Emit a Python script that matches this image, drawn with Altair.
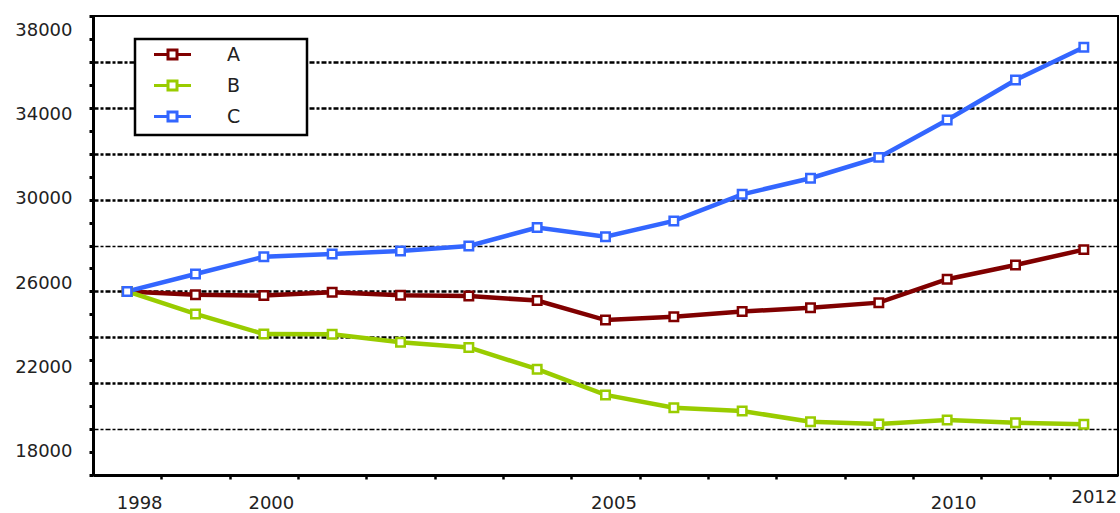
import altair as alt
import pandas as pd

# ---- data ----
years = list(range(1998, 2013))
series_a = [26000, 25850, 25820, 25960, 25830, 25800, 25600, 24750, 24900, 25120, 25290, 25510, 26530, 27150, 27820]
series_b = [26000, 25020, 24140, 24130, 23780, 23560, 22610, 21490, 20930, 20790, 20320, 20220, 20400, 20280, 20210]
series_c = [26000, 26760, 27510, 27630, 27760, 27980, 28780, 28380, 29070, 30230, 30930, 31840, 33470, 35210, 36640]
names = ["A", "B", "C"]
colors = ["#800000", "#99cc00", "#3366ff"]

x_label_years = [1998, 2000, 2005, 2010, 2012]
x_tick_years = [y + 0.5 for y in range(1998, 2012)]
y_label_values = [18000, 22000, 26000, 30000, 34000, 38000]
y_tick_values = list(range(18000, 38001, 1000))
y_grid_values = list(range(20000, 36001, 2000))

rows = []
for name, vals in zip(names, [series_a, series_b, series_c]):
    for yr, v in zip(years, vals):
        rows.append({"year": yr, "value": v, "series": name})
df = pd.DataFrame(rows)

font = "DejaVu Sans"
xl = ",".join(str(v) for v in x_label_years)
yl = ",".join(str(v) for v in y_label_values)
yg = ",".join(str(v) for v in y_grid_values)

x_enc = alt.X(
    "year:Q",
    title=None,
    scale=alt.Scale(domain=[1997.5, 2012.5], nice=False, zero=False),
    axis=alt.Axis(
        values=sorted(x_tick_years + x_label_years),
        labelExpr=f"indexof([{xl}], datum.value) >= 0 ? format(datum.value, 'd') : ''",
        tickOpacity={"condition": {"test": "datum.value % 1 == 0.5", "value": 1}, "value": 0},
        labelOffset=alt.expr("datum.value == 1998 ? 12 : datum.value == 2000 ? 7 : datum.value == 2010 ? 6 : datum.value == 2012 ? 10 : 8"),
        labelPadding=alt.expr("datum.value == 2012 ? 9 : 15"),
        tickSize=4, tickWidth=2.5, tickColor="black",
        domainColor="black", domainWidth=3,
        labelFont=font, labelFontSize=18, labelColor="#222",
        labelBaseline="top", labelFlush=False, labelOverlap=False,
        grid=False,
    ),
)

y_enc = alt.Y(
    "value:Q",
    title=None,
    scale=alt.Scale(domain=[18000, 38000], nice=False, zero=False),
    axis=alt.Axis(
        values=y_tick_values,
        labelExpr=f"indexof([{yl}], datum.value) >= 0 ? format(datum.value, 'd') : ''",
        labelOffset=alt.expr("-4.5 + (datum.value - 28000) * 0.0019"),
        labelPadding=17,
        tickSize=4, tickWidth=3, tickColor="black",
        domainColor="black", domainWidth=3,
        labelFont=font, labelFontSize=18, labelColor="#222",
        labelFlush=False, labelOverlap=False,
        grid=True, gridColor="black", gridDash=[5, 2, 3, 2],
        gridOpacity={"condition": {"test": f"indexof([{yg}], datum.value) >= 0", "value": 1}, "value": 0},
        gridWidth={"condition": {"test": "datum.value == 28000 || datum.value == 20000", "value": 1.5}, "value": 2.5},
    ),
)

legend_symbol = "M-1.85,0H-0.45M0.45,0H1.85M-0.45,-0.45H0.45V0.45H-0.45Z"
color_enc = alt.Color(
    "series:N",
    scale=alt.Scale(domain=names, range=colors),
    legend=alt.Legend(
        title=None, orient="none", legendX=68, legendY=27,
        symbolType=legend_symbol, symbolSize=400, symbolStrokeWidth=3,
        symbolFillColor="white", symbolOpacity=1,
        labelFont=font, labelFontSize=19, labelColor="#222",
        labelOffset=43, rowPadding=9, padding=0,
    ),
)

box = alt.Chart(pd.DataFrame({"k": [0]})).mark_rect(
    fill="white", stroke="black", strokeWidth=2.5
).encode(x=alt.value(42), x2=alt.value(214), y=alt.value(23), y2=alt.value(119))

base = alt.Chart(df).encode(x=x_enc, y=y_enc, color=color_enc)
lines = base.mark_line(strokeWidth=4.5, opacity=1)
points = base.mark_point(shape="square", filled=False, fill="white", fillOpacity=1,
                         size=72, strokeWidth=2.5, opacity=1)

chart = alt.layer(box, lines, points).properties(
    width=1025, height=459,
    autosize=alt.AutoSizeParams(type="none"),
    padding={"left": 93, "top": 16, "right": 2, "bottom": 38},
    background="white",
).configure_view(stroke="black", strokeWidth=2)

chart.save("out.html", embed_options={"renderer": "svg", "actions": False})
